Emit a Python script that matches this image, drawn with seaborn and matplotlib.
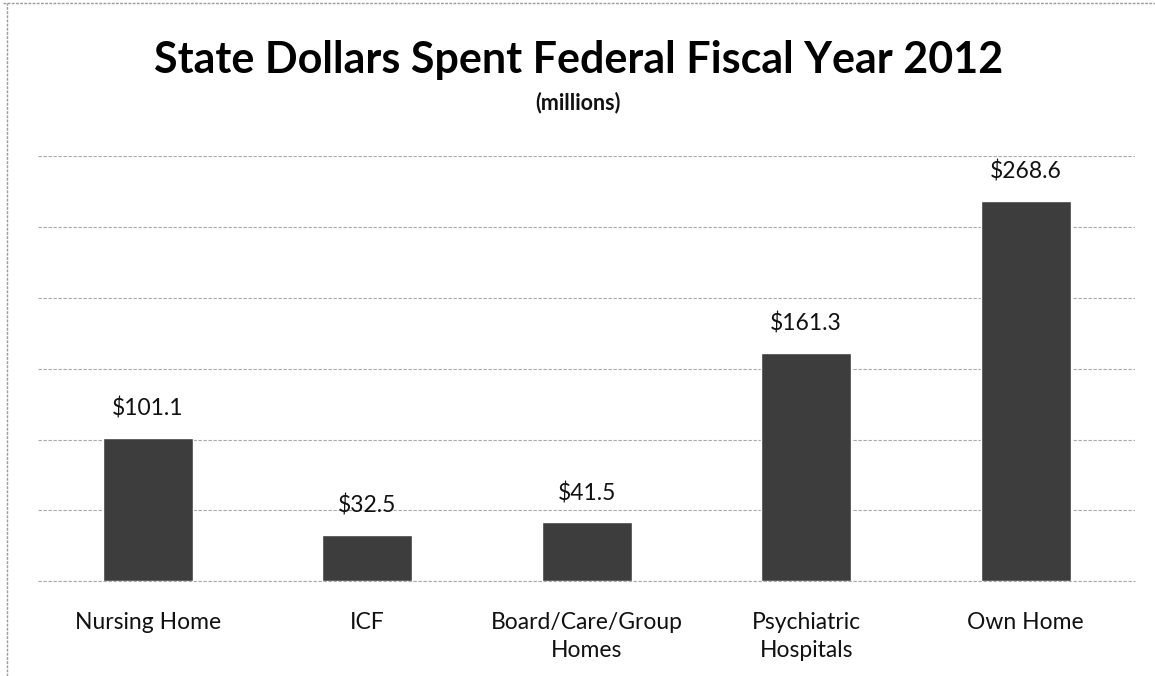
import matplotlib
matplotlib.use("Agg")
import matplotlib.pyplot as plt
import seaborn as sns
import pandas as pd

# State spending by setting, FFY 2012 (millions of dollars)
categories = ["Nursing Home", "ICF", "Board/Care/Group\nHomes", "Psychiatric\nHospitals", "Own Home"]
dollars = [101.1, 32.5, 41.5, 161.3, 268.6]

df = pd.DataFrame({"setting": categories, "dollars": dollars})

sns.set_theme(style="white")
plt.rcParams["font.family"] = ["Lato", "DejaVu Sans"]

fig = plt.figure(figsize=(11.55, 6.76), dpi=100)
fig.patch.set_facecolor("white")
ax = fig.add_axes([0.033, 0.1405, 0.95, 0.628])

sns.barplot(data=df, x="setting", y="dollars", color="#3d3d3d",
            width=0.41, saturation=1, ax=ax)

grid_style = dict(color="#a8a8a8", linestyle=(0, (3, 1.5)), linewidth=0.8)
ax.set_ylim(0, 300)
ax.set_yticks(range(0, 301, 50))
ax.yaxis.grid(True, **grid_style)
ax.axhline(0, zorder=0.5, clip_on=False, **grid_style)
ax.set_axisbelow(True)
ax.tick_params(axis="y", left=False, labelleft=False)
ax.tick_params(axis="x", bottom=False, labelsize=16.5, pad=16, colors="#111111")
for lbl in ax.get_xticklabels():
    lbl.set_linespacing(1.45)
for s in ax.spines.values():
    s.set_visible(False)
ax.set_xlabel("")
ax.set_ylabel("")
ax.set_xlim(-0.5, 4.5)

for c in ax.containers:
    ax.bar_label(c, labels=[f"${v:.1f}" for v in dollars], padding=13,
                 fontsize=16.5, color="#111111")

fig.text(0.501, 0.911, "State Dollars Spent Federal Fiscal Year 2012",
         ha="center", va="center", fontsize=31, fontweight="bold", color="black")
fig.text(0.5, 0.849, "(millions)", ha="center", va="center",
         fontsize=15.5, fontweight="bold", color="#111111")

# thin scanned-page style frame along top and left edges
fig.add_artist(plt.Line2D([0.003, 1.0], [0.996, 0.996], transform=fig.transFigure,
                          color="#9a9a9a", linewidth=1, linestyle=(0, (2, 1))))
fig.add_artist(plt.Line2D([0.006, 0.006], [0.0, 0.996], transform=fig.transFigure,
                          color="#9a9a9a", linewidth=1, linestyle=(0, (2, 1))))

fig.savefig("out.png", dpi=100, facecolor="white")
